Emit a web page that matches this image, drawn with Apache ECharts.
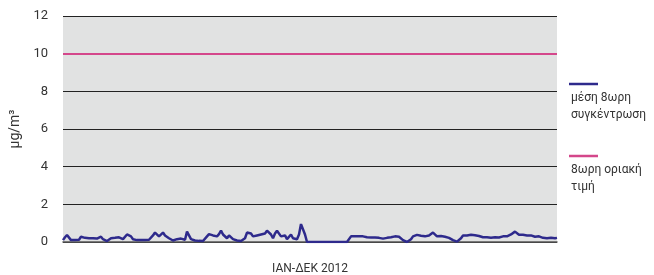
<!DOCTYPE html>
<html>
<head>
<meta charset="utf-8">
<script src="https://cdn.jsdelivr.net/npm/echarts@6/dist/echarts.min.js"></script>
<style>
  html, body { margin: 0; padding: 0; background: #fff; }
  #chart1 { width: 654px; height: 275px; }
</style>
</head>
<body>
<div id="chart1"></div>
<script>
// μέση 8ωρη συγκέντρωση, one reading every ~1.5 days across 2012
var meanValues = [
  0.1, 0.25, 0.37, 0.3, 0.1, 0.08, 0.1, 0.08, 0.12, 0.28,
  0.3, 0.22, 0.3, 0.2, 0.12, 0.2, 0.25, 0.18, 0.22, 0.28,
  0.15, 0.08, 0.05, 0.1, 0.2, 0.3, 0.22, 0.32, 0.25, 0.3,
  0.15, 0.2, 0.4, 0.45, 0.3, 0.15, 0.08, 0.1, 0.05, 0.1,
  0.08, 0.1, 0.06, 0.12, 0.15, 0.35, 0.5, 0.4, 0.3, 0.38,
  0.5, 0.35, 0.25, 0.2, 0.12, 0.08, 0.1, 0.15, 0.12, 0.18,
  0.1, 0.12, 0.55, 0.6, 0.15, 0.05, 0.08, 0.05, 0.06, 0.04,
  0.05, 0.08, 0.3, 0.42, 0.38, 0.35, 0.45, 0.3, 0.42, 0.6,
  0.4, 0.3, 0.2, 0.35, 0.25, 0.15, 0.2, 0.08, 0.12, 0.05,
  0.1, 0.2, 0.5, 0.55, 0.45, 0.3, 0.2, 0.35, 0.28, 0.4,
  0.3, 0.45, 0.6, 0.55, 0.4, 0.2, 0.45, 0.6, 0.5, 0.3,
  0.2, 0.35, 0.15, 0.25, 0.4, 0.2, 0.3, 0.15, 0.4, 0.95,
  0.85, 0.4, 0, 0, 0, 0, 0, 0, 0, 0,
  0, 0, 0, 0, 0, 0, 0, 0, 0, 0,
  0, 0, 0, 0, 0.3, 0.32, 0.3, 0.33, 0.3, 0.28,
  0.3, 0.28, 0.25, 0.27, 0.24, 0.22, 0.24, 0.2, 0.22, 0.2,
  0.18, 0.2, 0.22, 0.2, 0.25, 0.28, 0.3, 0.32, 0.28, 0.2,
  0.1, 0.02, 0, 0.05, 0.15, 0.3, 0.35, 0.38, 0.35, 0.33,
  0.35, 0.3, 0.32, 0.35, 0.45, 0.5, 0.4, 0.3, 0.28, 0.32,
  0.25, 0.28, 0.3, 0.22, 0.2, 0.1, 0.05, 0.02, 0.08, 0.2,
  0.35, 0.38, 0.35, 0.36, 0.38, 0.35, 0.36, 0.35, 0.32, 0.3,
  0.25, 0.22, 0.25, 0.2, 0.23, 0.22, 0.25, 0.28, 0.24, 0.25,
  0.3, 0.28, 0.3, 0.35, 0.4, 0.5, 0.55, 0.45, 0.38, 0.35,
  0.38, 0.33, 0.35, 0.3, 0.35, 0.3, 0.28, 0.35, 0.3, 0.25,
  0.22, 0.25, 0.2, 0.28, 0.22, 0.25, 0.2, 0.22
];
var limitValue = 10;
var yTicks = [0, 2, 4, 6, 8, 10, 12];
var seriesNames = ['μέση 8ωρη\nσυγκέντρωση', '8ωρη οριακή\nτιμή'];
var xTitle = 'ΙΑΝ-ΔΕΚ 2012';

var steps = meanValues.map(function (v, i) { return i; });

var chart1 = echarts.init(document.getElementById('chart1'));
var font = 'Roboto, "Noto Sans", sans-serif';
var option = {
    animation: false,
    textStyle: { fontFamily: font },
    grid: {
        left: 63,
        right: 97,
        top: 16,
        bottom: 33,
        outerBoundsMode: 'none',
        containLabel: false,
        show: true,
        backgroundColor: '#e1e2e2',
        borderWidth: 0
    },
    xAxis: {
        type: 'category',
        data: steps,
        boundaryGap: false,
        name: xTitle,
        nameLocation: 'middle',
        nameGap: 21,
        nameTextStyle: { color: '#333', fontSize: 12 },
        axisLine: { show: true, lineStyle: { color: '#555', width: 1.5 } },
        axisTick: { show: false },
        axisLabel: { show: false },
        splitLine: { show: false }
    },
    yAxis: {
        type: 'value',
        min: yTicks[0],
        max: yTicks[yTicks.length - 1],
        interval: 2,
        name: 'μg/m³',
        nameLocation: 'middle',
        nameGap: 40,
        nameTextStyle: { color: '#333', fontSize: 14 },
        axisLine: { show: false },
        axisTick: { show: false },
        axisLabel: { color: '#333', fontSize: 13, margin: 15 },
        splitLine: { show: true, lineStyle: { color: '#222', width: 1 } }
    },
    series: [
        {
            name: seriesNames[0],
            type: 'line',
            data: meanValues,
            showSymbol: false,
            lineStyle: { color: '#2e2a8c', width: 2.5 },
            markLine: {
                silent: true,
                symbol: 'none',
                label: { show: false },
                lineStyle: { color: '#d4478b', width: 2, type: 'solid' },
                data: [{ yAxis: limitValue }]
            }
        }
    ],
    graphic: [
        { type: 'line', shape: { x1: 569, y1: 84, x2: 598, y2: 84 }, style: { stroke: '#2e2a8c', lineWidth: 2.5 } },
        { type: 'text', left: 571, top: 89, style: { text: seriesNames[0], fill: '#333', font: '12px ' + font, lineHeight: 17 } },
        { type: 'line', shape: { x1: 569, y1: 156, x2: 598, y2: 156 }, style: { stroke: '#d4478b', lineWidth: 2.5 } },
        { type: 'text', left: 571, top: 161, style: { text: seriesNames[1], fill: '#333', font: '12px ' + font, lineHeight: 17 } }
    ]
};
chart1.setOption(option);
</script>
</body>
</html>
